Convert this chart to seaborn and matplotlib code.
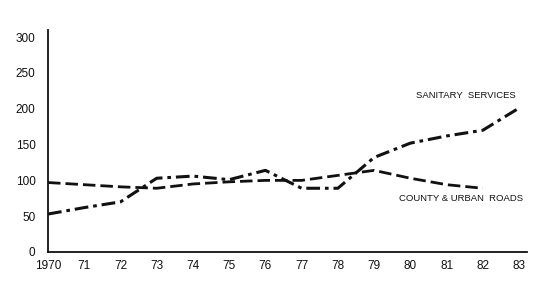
import matplotlib
matplotlib.use("Agg")
import matplotlib.pyplot as plt
import seaborn as sns
import pandas as pd

years = list(range(1970, 1984))
sanitary = [53, 62, 70, 103, 106, 101, 114, 89, 89, 132, 152, 162, 170, 201]
roads_years = list(range(1970, 1983))
roads = [97, 94, 91, 89, 95, 98, 100, 100, 107, 114, 103, 94, 89]
xtick_labels = ["1970", "71", "72", "73", "74", "75", "76", "77", "78", "79", "80", "81", "82", "83"]
yticks = [0, 50, 100, 150, 200, 250, 300]

sns.set_style("white")
plt.rcParams['font.family'] = ['Liberation Sans', 'DejaVu Sans']

fig = plt.figure(figsize=(5.43, 2.81), dpi=100)
ax = fig.add_axes([48/543, 29/281, (527-48)/543, (252-30)/281])

df_s = pd.DataFrame({"year": years, "value": sanitary})
df_r = pd.DataFrame({"year": roads_years, "value": roads})
sns.lineplot(data=df_s, x="year", y="value", ax=ax, color="#111111", lw=2.2,
             linestyle=(0, (4.5, 1.6, 1.2, 1.6)))
sns.lineplot(data=df_r, x="year", y="value", ax=ax, color="#111111", lw=2.0,
             linestyle=(0, (4.5, 1.8)))

ax.set_xlim(1970, 1983.22)
ax.set_ylim(0, 310)
ax.set_xticks(years)
ax.set_xticklabels(xtick_labels, fontsize=8.5)
ax.set_yticks(yticks)
ax.set_yticklabels([str(v) for v in yticks], fontsize=8.5)
ax.set_xlabel("")
ax.set_ylabel("")
for s in ["top", "right"]:
    ax.spines[s].set_visible(False)
for s in ["left", "bottom"]:
    ax.spines[s].set_color("#111111")
    ax.spines[s].set_linewidth(1.3)
ax.tick_params(axis="y", direction="out", length=7, width=1.2, color="#111111", pad=2, labelcolor="#111111")
ax.tick_params(axis="x", direction="out", length=3, width=1.0, color="#111111", pad=3, labelcolor="#111111")
ax.grid(False)

ax.text(1982.9, 218, "SANITARY  SERVICES", fontsize=6.8,
        ha="right", va="center", color="#111111")
ax.text(1983.1, 75, "COUNTY & URBAN  ROADS", fontsize=6.8,
        ha="right", va="center", color="#111111")

fig.savefig("out.png", dpi=100)
